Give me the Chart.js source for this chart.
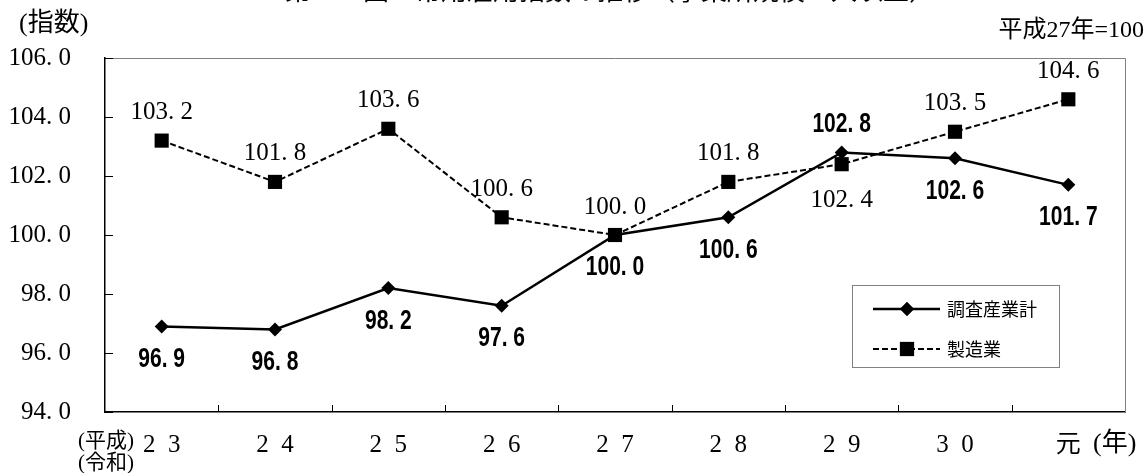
<!DOCTYPE html>
<html>
<head>
<meta charset="utf-8">
<script src="https://cdn.jsdelivr.net/npm/chart.js@4.4.1/dist/chart.umd.min.js"></script>
<style>
  html, body { margin: 0; padding: 0; background: #fff; overflow: hidden; }
  #wrap { width: 1147px; height: 473px; position: relative; }
</style>
</head>
<body>
<div id="wrap"><canvas id="c" width="1147" height="473"></canvas></div>
<script>
// Year labels (平成23年 … 令和元年)
const yearLabels = ['2  3', '2  4', '2  5', '2  6', '2  7', '2  8', '2  9', '3  0', '元'];
// 常用雇用指数（平成27年=100）
const allIndustries = [96.9, 96.8, 98.2, 97.6, 100.0, 100.6, 102.8, 102.6, 101.7];
const manufacturing = [103.2, 101.8, 103.6, 100.6, 100.0, 101.8, 102.4, 103.5, 104.6];
const seriesNames = ['調査産業計', '製造業'];
const yMin = 94, yMax = 106, yStep = 2;

const SERIF = "'Liberation Serif', 'Noto Sans CJK JP', serif";
const GOTHIC = "'Noto Sans CJK JP', sans-serif";
const BOLD = "bold 27px 'Liberation Sans', 'Noto Sans CJK JP', sans-serif";

const fmt = v => Number(v).toFixed(1).replace('.', '. ');

// Frame, inner tick marks, value labels, legend and captions
const decor = {
  id: 'decor',
  afterDatasetsDraw(chart) {
    const ctx = chart.ctx;
    const ca = chart.chartArea;
    const xs = chart.scales.x, ys = chart.scales.y;
    ctx.save();

    // top / right frame
    ctx.strokeStyle = '#808080';
    ctx.lineWidth = 1;
    ctx.beginPath();
    ctx.moveTo(ca.left, ca.top + 0.5);
    ctx.lineTo(ca.right + 0.5, ca.top + 0.5);
    ctx.lineTo(ca.right + 0.5, ca.bottom);
    ctx.stroke();

    // inner tick marks
    ctx.strokeStyle = '#000';
    ctx.beginPath();
    ys.ticks.forEach(t => {
      const y = Math.round(ys.getPixelForValue(t.value)) + 0.5;
      ctx.moveTo(ca.left, y);
      ctx.lineTo(ca.left + 8, y);
    });
    for (let i = 1; i < xs.ticks.length; i++) {
      const x = Math.round((xs.getPixelForTick(i - 1) + xs.getPixelForTick(i)) / 2) + 0.5;
      ctx.moveTo(x, ca.bottom);
      ctx.lineTo(x, ca.bottom - 7);
    }
    ctx.stroke();

    // value labels
    ctx.fillStyle = '#000';
    ctx.textAlign = 'center';
    ctx.textBaseline = 'middle';
    chart.data.datasets.forEach((ds, di) => {
      const meta = chart.getDatasetMeta(di);
      const lab = ds.valueLabel;
      ctx.font = lab.font;
      meta.data.forEach((pt, i) => {
        const flip = lab.flip.includes(i);
        const dir = flip ? -lab.side : lab.side;
        const gap = dir > 0 ? lab.gapBelow : lab.gapAbove;
        const sx = lab.squeeze || 1;
        ctx.save();
        ctx.translate(pt.x, pt.y + dir * gap);
        ctx.scale(sx, 1);
        ctx.fillText(fmt(ds.data[i]), 0, 0);
        ctx.restore();
      });
    });

    // legend
    const lg = { x: 852, y: 285, w: 207, h: 82 };
    ctx.strokeStyle = '#808080';
    ctx.lineWidth = 1;
    ctx.strokeRect(lg.x + 0.5, lg.y + 0.5, lg.w, lg.h);
    const rows = [309, 349];
    chart.data.datasets.forEach((ds, di) => {
      const y = rows[di];
      ctx.strokeStyle = ds.borderColor;
      ctx.lineWidth = ds.borderWidth;
      ctx.setLineDash(ds.borderDash || []);
      ctx.beginPath();
      ctx.moveTo(873, y);
      ctx.lineTo(940, y);
      ctx.stroke();
      ctx.setLineDash([]);
      ctx.fillStyle = ds.backgroundColor;
      Chart.helpers.drawPoint(ctx, {
        pointStyle: ds.pointStyle, radius: ds.pointRadius, borderWidth: 0, rotation: 0
      }, 907, y);
      ctx.fill();
      ctx.fillStyle = '#000';
      ctx.font = '18px ' + GOTHIC;
      ctx.textAlign = 'left';
      ctx.textBaseline = 'middle';
      ctx.fillText(ds.label, 947, y);
    });

    // captions
    ctx.fillStyle = '#000';
    ctx.textBaseline = 'middle';
    ctx.textAlign = 'left';
    ctx.font = '26px ' + SERIF;
    ctx.fillText('(指数)', 19, 24);
    ctx.textAlign = 'right';
    ctx.font = '24px ' + SERIF;
    ctx.fillText('平成27年=100', 1144, 31);
    ctx.textAlign = 'left';
    ctx.font = '21px ' + SERIF;
    ctx.fillText('(平成)', 78, 441);
    ctx.fillText('(令和)', 78, 463);
    ctx.font = '26px ' + SERIF;
    ctx.fillText('(年)', 1093, 444);
    ctx.textAlign = 'center';
    ctx.textBaseline = 'ideographic';
    ctx.font = '26px ' + GOTHIC;
    ctx.fillText('第　　図　常用雇用指数の推移（事業所規模５人以上）', 610, 3);

    ctx.restore();
  }
};

new Chart(document.getElementById('c'), {
  type: 'line',
  data: {
    labels: yearLabels,
    datasets: [
      {
        label: seriesNames[0],
        data: allIndustries,
        borderColor: '#000',
        backgroundColor: '#000',
        borderWidth: 2.5,
        pointStyle: 'rectRot',
        pointRadius: 7,
        pointHoverRadius: 7,
        pointBorderWidth: 0,
        tension: 0,
        order: 1,
        valueLabel: { font: BOLD, squeeze: 0.78, side: 1, flip: [6], gapBelow: 33, gapAbove: 28 }
      },
      {
        label: seriesNames[1],
        data: manufacturing,
        borderColor: '#000',
        backgroundColor: '#000',
        borderWidth: 2,
        borderDash: [6, 3],
        pointStyle: 'rect',
        pointRadius: 10,
        pointHoverRadius: 10,
        pointBorderWidth: 0,
        tension: 0,
        order: 0,
        valueLabel: { font: '25px ' + SERIF, side: -1, flip: [6], gapBelow: 36, gapAbove: 28 }
      }
    ]
  },
  options: {
    responsive: false,
    animation: false,
    events: [],
    layout: { padding: { top: 58, right: 22, left: 0, bottom: 0 } },
    plugins: { legend: { display: false }, tooltip: { enabled: false } },
    scales: {
      x: {
        offset: true,
        grid: { display: false, drawTicks: false },
        border: { display: true, color: '#000', width: 1.5 },
        ticks: { color: '#000', font: { family: SERIF, size: 25 }, padding: 18, maxRotation: 0, autoSkip: false },
        afterFit: s => { s.height = 61; }
      },
      y: {
        min: yMin,
        max: yMax,
        grid: { display: false, drawTicks: false },
        border: { display: true, color: '#000', width: 1.5 },
        ticks: { stepSize: yStep, color: '#000', font: { family: SERIF, size: 25 }, padding: 34, callback: v => fmt(v) },
        afterFit: s => { s.width = 105; }
      }
    }
  },
  plugins: [decor]
});
</script>
</body>
</html>
